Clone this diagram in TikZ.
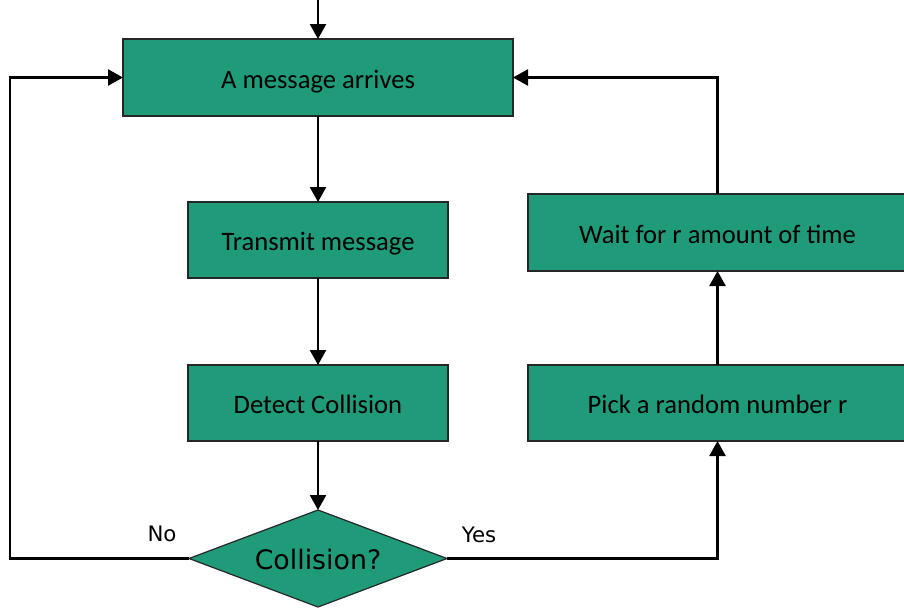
\documentclass[tikz,border=0pt]{standalone}
\usepackage{fontspec}
\setmainfont{Carlito}
\newfontfamily\dejavu{DejaVu Sans}
\usetikzlibrary{arrows.meta,shapes.geometric}
\definecolor{boxgreen}{RGB}{31,155,122}

\begin{document}
\begin{tikzpicture}[x=1pt,y=-1pt,
  procbox/.style={draw=black!85, line width=1.2pt, fill=boxgreen,
    inner sep=0pt, outer sep=0pt, text height=21pt, text depth=0pt,
    font=\fontsize{26.6}{30}\selectfont},
  decision/.style={diamond, draw=black!85, line width=1.2pt, fill=boxgreen,
    aspect=2.66, minimum width=258pt, minimum height=97pt,
    inner sep=0pt, outer sep=0pt, text height=22.6pt, text depth=0pt,
    font=\dejavu\fontsize{26.8}{30}\selectfont},
  flow/.style={line width=2.4pt, -{Triangle[length=15pt,width=16pt]}},
  branch/.style={font=\dejavu\fontsize{21.3}{24}\selectfont}]

\useasboundingbox (0,0) rectangle (904,608);
\clip (0,0) rectangle (904,608);

% process boxes and the decision
\node[procbox, minimum width=390pt, minimum height=77pt] (arrive) at (318,77.5) {A message arrives};
\node[procbox, minimum width=260pt, minimum height=76pt] (transmit) at (318,240) {Transmit message};
\node[procbox, minimum width=260pt, minimum height=76pt] (detect) at (318,403) {Detect Collision};
\node[decision] (collide) at (318,558.5) {Collision?};
\node[procbox, minimum width=379pt, minimum height=76pt] (pick) at (717.5,403) {Pick a random number r};
\node[procbox, minimum width=379pt, minimum height=77pt] (wait) at (717.5,232.5) {Wait for r amount of time};

% branch labels
\node[branch] (no) at (162,534) {No};
\node[branch] (yes) at (479,535) {Yes};

% helper points
\coordinate (entry) at (318,0);
\coordinate (leftrail) at (10,0);

% connectors
\draw[flow] (entry) -- (arrive);
\draw[flow] (arrive) -- (transmit);
\draw[flow] (transmit) -- (detect);
\draw[flow] (detect) -- (collide);
\draw[flow] (collide.west) -- (collide.west -| leftrail) |- (arrive.west);
\draw[flow] (collide.east) -| (pick.south);
\draw[flow] (pick) -- (wait);
\draw[flow] (wait.north) |- (arrive.east);
\end{tikzpicture}
\end{document}
